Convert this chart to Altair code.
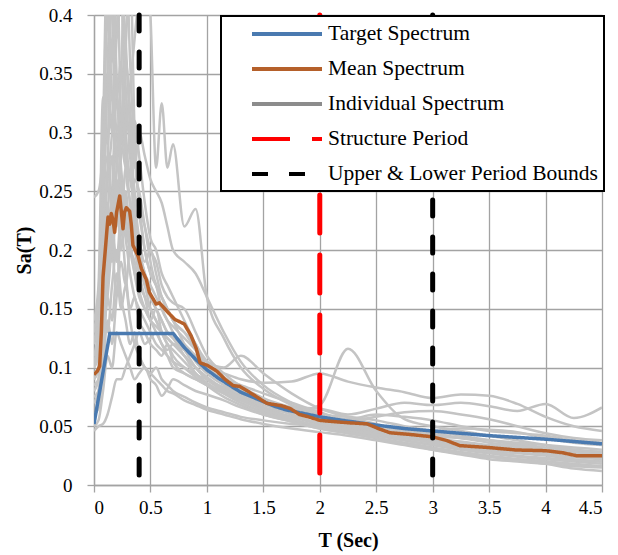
import altair as alt
import pandas as pd

# ---------------- data ----------------
T_GRID = [0, 0.04, 0.08, 0.12, 0.16, 0.2, 0.24, 0.28, 0.32, 0.36, 0.4,
          0.45, 0.5, 0.55, 0.6, 0.65, 0.7, 0.8, 0.9, 1.0,
          1.15, 1.3, 1.5, 1.75, 2.0,
          2.25, 2.5, 2.75, 3.0, 3.25, 3.5, 3.75, 4.0, 4.25, 4.5]

GM01 = [0.12, 0.16, 0.30, 0.46, 0.40, 0.33, 0.36, 0.27, 0.24, 0.21, 0.19,
        0.17, 0.15, 0.14, 0.13, 0.125, 0.12, 0.11, 0.10, 0.092,
        0.082, 0.075, 0.066, 0.058, 0.052,
        0.048, 0.044, 0.040, 0.036, 0.032, 0.029, 0.027, 0.025, 0.022, 0.020]
GM02 = [0.245, 0.25, 0.29, 0.44, 0.36, 0.45, 0.31, 0.27, 0.30, 0.23, 0.20,
        0.18, 0.16, 0.15, 0.14, 0.13, 0.125, 0.11, 0.10, 0.09,
        0.083, 0.076, 0.068, 0.062, 0.056,
        0.052, 0.048, 0.044, 0.040, 0.037, 0.034, 0.032, 0.030, 0.028, 0.027]
GM03 = [0.10, 0.11, 0.16, 0.20, 0.24, 0.22, 0.28, 0.30, 0.34, 0.38, 0.42,
        0.46, 0.40, 0.27, 0.325, 0.27, 0.29, 0.22, 0.235, 0.16,
        0.125, 0.10, 0.082, 0.068, 0.058,
        0.052, 0.048, 0.045, 0.042, 0.040, 0.038, 0.034, 0.031, 0.028, 0.026]
GM04 = [0.08, 0.09, 0.22, 0.35, 0.47, 0.38, 0.42, 0.30, 0.26, 0.24, 0.21,
        0.19, 0.20, 0.18, 0.16, 0.15, 0.14, 0.13, 0.12, 0.10,
        0.09, 0.08, 0.07, 0.062, 0.055,
        0.05, 0.046, 0.042, 0.038, 0.034, 0.031, 0.028, 0.026, 0.024, 0.022]
GM05 = [0.046, 0.05, 0.052, 0.06, 0.075, 0.09, 0.09, 0.10, 0.11, 0.12, 0.13,
        0.12, 0.125, 0.13, 0.12, 0.115, 0.12, 0.11, 0.095, 0.085,
        0.075, 0.068, 0.06, 0.054, 0.048,
        0.044, 0.04, 0.035, 0.03, 0.026, 0.022, 0.02, 0.018, 0.016, 0.015]
GM06 = [0.09, 0.10, 0.14, 0.19, 0.25, 0.33, 0.29, 0.37, 0.44, 0.30, 0.24,
        0.22, 0.20, 0.19, 0.17, 0.16, 0.155, 0.15, 0.13, 0.11,
        0.095, 0.084, 0.074, 0.066, 0.06,
        0.058, 0.055, 0.05, 0.046, 0.042, 0.038, 0.035, 0.032, 0.03, 0.028]
GM07 = [0.13, 0.15, 0.25, 0.28, 0.23, 0.30, 0.26, 0.22, 0.20, 0.19, 0.17,
        0.16, 0.14, 0.15, 0.13, 0.12, 0.11, 0.10, 0.092, 0.085,
        0.078, 0.07, 0.062, 0.056, 0.05,
        0.047, 0.043, 0.038, 0.034, 0.03, 0.027, 0.024, 0.022, 0.02, 0.018]
GM08 = [0.07, 0.075, 0.12, 0.17, 0.20, 0.16, 0.22, 0.18, 0.15, 0.16, 0.14,
        0.13, 0.12, 0.115, 0.11, 0.12, 0.105, 0.095, 0.09, 0.085,
        0.08, 0.074, 0.066, 0.062, 0.068,
        0.116, 0.08, 0.056, 0.05, 0.046, 0.042, 0.038, 0.034, 0.03, 0.028]
GM09 = [0.11, 0.12, 0.20, 0.26, 0.30, 0.38, 0.46, 0.34, 0.28, 0.22, 0.20,
        0.18, 0.17, 0.16, 0.15, 0.14, 0.13, 0.12, 0.11, 0.10,
        0.095, 0.09, 0.087, 0.088, 0.095,
        0.088, 0.083, 0.079, 0.074, 0.077, 0.076, 0.069, 0.058, 0.05, 0.046]
GM10 = [0.10, 0.13, 0.17, 0.22, 0.19, 0.24, 0.20, 0.25, 0.21, 0.18, 0.16,
        0.15, 0.14, 0.13, 0.12, 0.11, 0.10, 0.095, 0.09, 0.085,
        0.08, 0.075, 0.07, 0.066, 0.065,
        0.06, 0.065, 0.07, 0.068, 0.07, 0.067, 0.063, 0.069, 0.057, 0.066]
GM11 = [0.14, 0.17, 0.33, 0.29, 0.46, 0.35, 0.27, 0.24, 0.22, 0.20, 0.18,
        0.16, 0.15, 0.14, 0.13, 0.12, 0.115, 0.105, 0.095, 0.087,
        0.078, 0.07, 0.062, 0.055, 0.05,
        0.046, 0.042, 0.038, 0.034, 0.031, 0.028, 0.025, 0.023, 0.021, 0.02]
GM12 = [0.06, 0.065, 0.10, 0.14, 0.12, 0.16, 0.19, 0.17, 0.21, 0.26, 0.25,
        0.22, 0.19, 0.17, 0.16, 0.15, 0.14, 0.12, 0.105, 0.095,
        0.085, 0.078, 0.07, 0.06, 0.052,
        0.048, 0.045, 0.041, 0.037, 0.034, 0.03, 0.028, 0.026, 0.024, 0.022]
GM13 = [0.095, 0.10, 0.15, 0.13, 0.17, 0.20, 0.16, 0.14, 0.12, 0.13, 0.11,
        0.10, 0.095, 0.09, 0.085, 0.08, 0.078, 0.072, 0.068, 0.064,
        0.06, 0.056, 0.052, 0.048, 0.045,
        0.042, 0.038, 0.034, 0.03, 0.027, 0.024, 0.022, 0.02, 0.018, 0.016]
GM14 = [0.085, 0.09, 0.13, 0.16, 0.21, 0.27, 0.32, 0.29, 0.26, 0.31, 0.28,
        0.24, 0.21, 0.20, 0.18, 0.17, 0.16, 0.14, 0.12, 0.105,
        0.092, 0.082, 0.072, 0.064, 0.056,
        0.05, 0.046, 0.044, 0.04, 0.036, 0.033, 0.03, 0.028, 0.026, 0.024]
GM15 = [0.07, 0.08, 0.11, 0.16, 0.14, 0.18, 0.15, 0.17, 0.14, 0.12, 0.11,
        0.10, 0.095, 0.10, 0.09, 0.085, 0.08, 0.075, 0.07, 0.066,
        0.062, 0.058, 0.055, 0.052, 0.05,
        0.054, 0.058, 0.062, 0.063, 0.06, 0.056, 0.05, 0.044, 0.04, 0.038]
GM16 = [0.12, 0.14, 0.20, 0.35, 0.30, 0.46, 0.43, 0.38, 0.30, 0.25, 0.23,
        0.20, 0.18, 0.17, 0.16, 0.15, 0.14, 0.13, 0.115, 0.10,
        0.088, 0.08, 0.07, 0.06, 0.052,
        0.047, 0.043, 0.04, 0.036, 0.034, 0.032, 0.03, 0.028, 0.025, 0.023]
GM17 = [0.05, 0.055, 0.08, 0.11, 0.10, 0.13, 0.12, 0.11, 0.10, 0.09, 0.095,
        0.10, 0.09, 0.085, 0.076, 0.082, 0.09, 0.085, 0.08, 0.077,
        0.072, 0.066, 0.06, 0.054, 0.048,
        0.044, 0.04, 0.036, 0.032, 0.028, 0.025, 0.022, 0.02, 0.017, 0.015]
GM18 = [0.10, 0.12, 0.26, 0.40, 0.33, 0.28, 0.25, 0.23, 0.20, 0.18, 0.165,
        0.15, 0.14, 0.135, 0.13, 0.125, 0.12, 0.115, 0.11, 0.10,
        0.09, 0.085, 0.078, 0.07, 0.062,
        0.056, 0.06, 0.058, 0.055, 0.05, 0.046, 0.044, 0.042, 0.038, 0.036]
GM19 = [0.11, 0.13, 0.18, 0.23, 0.28, 0.24, 0.30, 0.36, 0.32, 0.27, 0.30,
        0.28, 0.26, 0.25, 0.24, 0.22, 0.20, 0.19, 0.18, 0.16,
        0.13, 0.105, 0.085, 0.07, 0.06,
        0.054, 0.05, 0.047, 0.044, 0.04, 0.036, 0.033, 0.03, 0.028, 0.026]
GM20 = [0.075, 0.08, 0.12, 0.18, 0.22, 0.19, 0.23, 0.21, 0.18, 0.16, 0.15,
        0.14, 0.13, 0.12, 0.115, 0.11, 0.105, 0.10, 0.094, 0.09,
        0.082, 0.074, 0.064, 0.056, 0.05,
        0.045, 0.04, 0.035, 0.031, 0.027, 0.024, 0.021, 0.018, 0.014, 0.012]
GM21 = [0.13, 0.16, 0.22, 0.27, 0.38, 0.30, 0.35, 0.46, 0.36, 0.28, 0.24,
        0.20, 0.18, 0.17, 0.15, 0.14, 0.135, 0.125, 0.115, 0.105,
        0.10, 0.11, 0.095, 0.078, 0.065,
        0.058, 0.052, 0.046, 0.042, 0.04, 0.038, 0.036, 0.034, 0.032, 0.03]
GM22 = [0.09, 0.10, 0.19, 0.24, 0.20, 0.26, 0.22, 0.27, 0.24, 0.21, 0.19,
        0.17, 0.16, 0.15, 0.14, 0.13, 0.125, 0.115, 0.10, 0.09,
        0.08, 0.072, 0.064, 0.058, 0.053,
        0.05, 0.047, 0.045, 0.046, 0.048, 0.047, 0.045, 0.04, 0.036, 0.034]

INDIVIDUAL = {
    "GM01": GM01, "GM02": GM02, "GM03": GM03, "GM04": GM04, "GM05": GM05,
    "GM06": GM06, "GM07": GM07, "GM08": GM08, "GM09": GM09, "GM10": GM10,
    "GM11": GM11, "GM12": GM12, "GM13": GM13, "GM14": GM14, "GM15": GM15,
    "GM16": GM16, "GM17": GM17, "GM18": GM18, "GM19": GM19, "GM20": GM20,
    "GM21": GM21, "GM22": GM22,
}

TARGET_T = [0, 0.14, 0.7, 0.8, 0.9, 1.0, 1.1, 1.2, 1.3, 1.4, 1.5, 1.6, 1.7,
            1.8, 2.0, 2.2, 2.5, 2.75, 3.0, 3.5, 4.0, 4.5]
TARGET_SA = [0.052, 0.129, 0.129, 0.117, 0.107, 0.098, 0.091, 0.085, 0.079,
             0.075, 0.071, 0.067, 0.064, 0.062, 0.058, 0.055, 0.051, 0.048,
             0.046, 0.042, 0.039, 0.035]

MEAN_T = [0, 0.03, 0.05, 0.065, 0.08, 0.1, 0.124, 0.14, 0.153, 0.17, 0.183,
          0.2, 0.228, 0.245, 0.257, 0.27, 0.286, 0.316, 0.33, 0.345, 0.39,
          0.42, 0.463, 0.49, 0.55, 0.58, 0.655, 0.715, 0.8, 0.86, 0.906,
          0.94, 1.0, 1.087, 1.16, 1.234, 1.29, 1.41, 1.53, 1.66, 1.74, 1.82,
          1.9, 2.0, 2.12, 2.25, 2.42, 2.52, 2.62, 2.8, 3.0, 3.12, 3.24, 3.48,
          3.74, 4.0, 4.15, 4.27, 4.5]
MEAN_SA = [0.094, 0.097, 0.101, 0.13, 0.177, 0.2, 0.228, 0.222, 0.231, 0.225,
           0.215, 0.232, 0.246, 0.23, 0.218, 0.232, 0.236, 0.233, 0.222,
           0.204, 0.195, 0.184, 0.175, 0.164, 0.154, 0.155, 0.147, 0.141,
           0.137, 0.127, 0.116, 0.104, 0.102, 0.097, 0.09, 0.0845, 0.084,
           0.077, 0.0695, 0.0675, 0.065, 0.06, 0.058, 0.055, 0.054, 0.053,
           0.052, 0.048, 0.0445, 0.043, 0.041, 0.038, 0.0335, 0.032, 0.0298,
           0.0292, 0.0275, 0.025, 0.025]

PERIOD_T = [0.4, 2.0, 3.0]
PERIOD_SERIES = ["Upper & Lower Period Bounds", "Structure Period",
                 "Upper & Lower Period Bounds"]

SERIES = ["Target Spectrum", "Mean Spectrum", "Individual Spectrum",
          "Structure Period", "Upper & Lower Period Bounds"]
SERIES_COLORS = ["#4a7ab0", "#b5602a", "#8c8c8c", "#ff0000", "#000000"]
SERIES_DASH = [[1, 0], [1, 0], [1, 0], [38, 22], [16, 21]]

X_TICKS = [0, 0.5, 1, 1.5, 2, 2.5, 3, 3.5, 4, 4.5]
Y_TICKS = [0, 0.05, 0.1, 0.15, 0.2, 0.25, 0.3, 0.35, 0.4]

# ---------------- tables ----------------
gray_rows = []
for gid, vals in INDIVIDUAL.items():
    for t, v in zip(T_GRID, vals):
        gray_rows.append({"id": gid, "T": t, "Sa": v})
gray_df = pd.DataFrame(gray_rows)
target_df = pd.DataFrame({"T": TARGET_T, "Sa": TARGET_SA, "series": SERIES[0]})
mean_df = pd.DataFrame({"T": MEAN_T, "Sa": MEAN_SA, "series": SERIES[1]})
period_df = pd.DataFrame({"T": PERIOD_T, "series": PERIOD_SERIES})

# ---------------- encodings ----------------
FONT = "Liberation Serif"
x_enc = alt.X("T:Q", scale=alt.Scale(domain=[0, 4.5], nice=False),
              axis=alt.Axis(title="T (Sec)", values=X_TICKS, format="~g",
                            labelPadding=6, titlePadding=13))
y_enc = alt.Y("Sa:Q", scale=alt.Scale(domain=[0, 0.4], nice=False),
              axis=alt.Axis(title="Sa(T)", values=Y_TICKS, format="~g",
                            labelPadding=15, titlePadding=4))

legend = alt.Legend(title=None, orient="none", legendX=127, legendY=1,
                    fillColor="white", strokeColor="black", padding=6,
                    symbolType="M-3.5,0H3.5", symbolSize=400, symbolStrokeWidth=4,
                    symbolOffset=48, labelOffset=29, labelFont=FONT,
                    labelFontSize=21.5, labelColor="black", labelLimit=500,
                    rowPadding=12)
color_enc = alt.Color("series:N", scale=alt.Scale(domain=SERIES, range=SERIES_COLORS),
                      legend=legend)
dash_enc = alt.StrokeDash("series:N", scale=alt.Scale(domain=SERIES, range=SERIES_DASH),
                          legend=legend)

gray = alt.Chart(gray_df).mark_line(
    stroke="#c4c4c4", strokeWidth=2.5, clip=True, interpolate="monotone"
).encode(x=x_enc, y=y_enc, detail="id:N", order="T:Q")

target = alt.Chart(target_df).mark_line(strokeWidth=3.5, clip=True).encode(
    x=x_enc, y=y_enc, color=color_enc, strokeDash=dash_enc)

mean = alt.Chart(mean_df).mark_line(strokeWidth=3.5, clip=True, strokeJoin="round").encode(
    x=x_enc, y=y_enc, color=color_enc, strokeDash=dash_enc)

rules = alt.Chart(period_df).mark_rule(strokeWidth=5, strokeCap="round").encode(
    x=alt.X("T:Q"), color=color_enc, strokeDash=dash_enc)

chart = alt.layer(gray, target, mean, rules).properties(
    width=508, height=470,
    autosize=alt.AutoSizeParams(type="none"),
    padding={"left": 94, "top": 15, "right": 16, "bottom": 70},
    background="white",
).configure_view(stroke=None).configure_axis(
    domainColor="#a3a3a3", gridColor="#a3a3a3", tickColor="#a3a3a3",
    gridWidth=1.3, domainWidth=1.3, tickWidth=1.3, tickSize=7,
    labelFont=FONT, labelFontSize=19, labelColor="black",
    titleFont=FONT, titleFontSize=20, titleFontWeight="bold", titleColor="black",
).configure_legend(strokeWidth=2)

chart.save("out.html", embed_options={"renderer": "svg", "actions": False})
